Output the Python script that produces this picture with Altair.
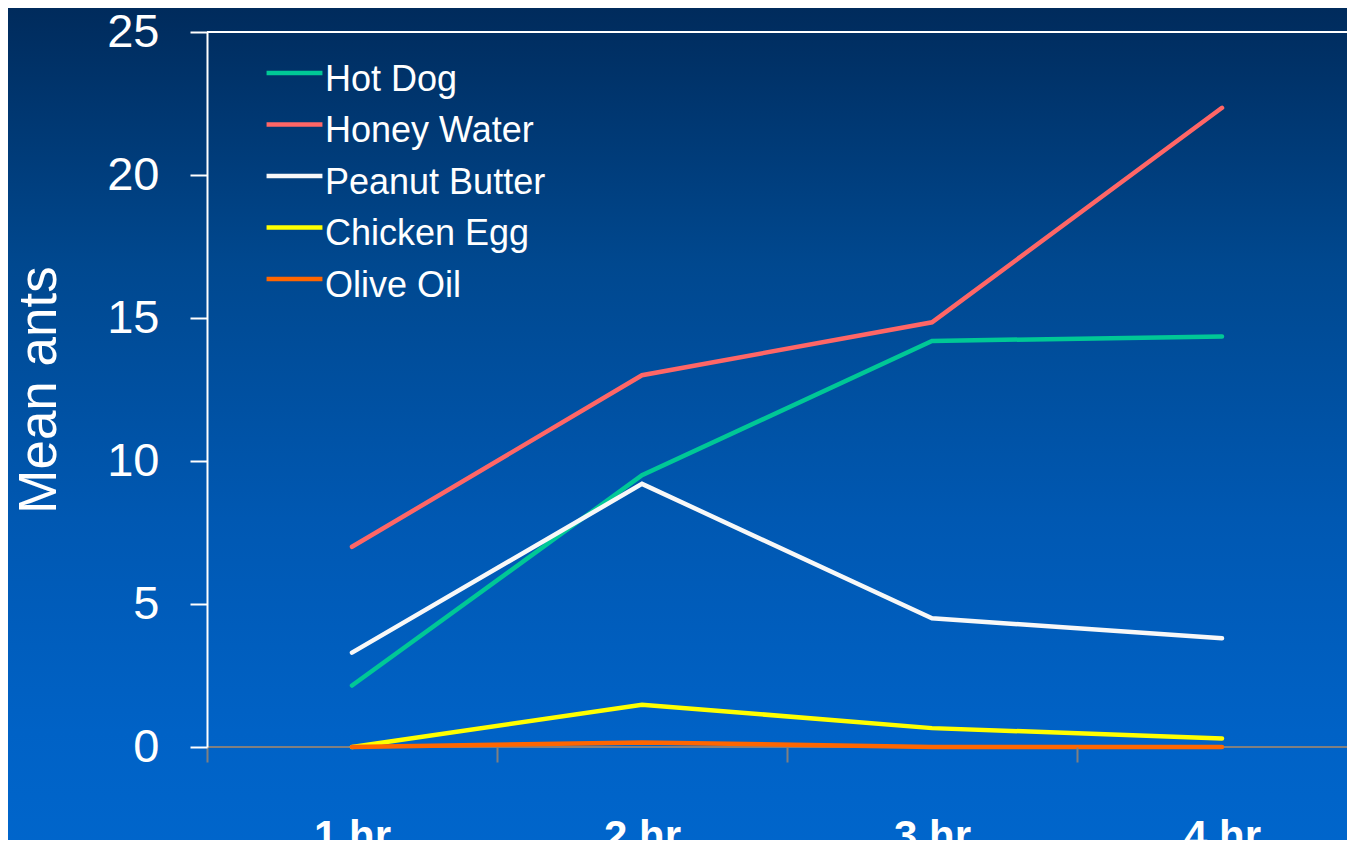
import altair as alt
import pandas as pd

hours = ["1 hr", "2 hr", "3 hr", "4 hr"]
series = ["Hot Dog", "Honey Water", "Peanut Butter", "Chicken Egg", "Olive Oil"]
hot_dog = [2.15, 9.5, 14.2, 14.35]
honey_water = [7.0, 13.0, 14.85, 22.35]
peanut_butter = [3.3, 9.2, 4.5, 3.8]
chicken_egg = [0.0, 1.48, 0.66, 0.3]
olive_oil = [0.0, 0.16, 0.0, 0.0]
colors = ["#00c896", "#ff6666", "#f8f8f8", "#ffff00", "#ff6600"]
y_ticks = [0, 5, 10, 15, 20, 25]

values = [hot_dog, honey_water, peanut_butter, chicken_egg, olive_oil]
rows = []
for name, vals in zip(series, values):
    for h, v in zip(hours, vals):
        rows.append({"hour": h, "series": name, "ants": v})
df = pd.DataFrame(rows)

XR = 1160          # full x range of the plot (extends past the visible page)
W, H = 1140, 715   # visible plot width / height
PL, PT, PR, PB = 199, 24, 0, 93
FONT = "Liberation Sans"

bg = alt.Chart(pd.DataFrame({"bg": [0]})).mark_rect(
    color=alt.LinearGradient(
        gradient="linear",
        stops=[
            alt.GradientStop(color="#002b5c", offset=0),
            alt.GradientStop(color="#00488f", offset=0.3),
            alt.GradientStop(color="#0058b2", offset=0.6),
            alt.GradientStop(color="#0062c6", offset=0.85),
            alt.GradientStop(color="#0066cc", offset=1),
        ],
        x1=0, x2=0, y1=0, y2=1,
    )
).encode(
    x=alt.value(-PL), x2=alt.value(W + 40),
    y=alt.value(-PT), y2=alt.value(H + PB + 20),
)

zero_rule = alt.Chart(pd.DataFrame({"r": [0]})).mark_rule(
    color="#808080", strokeWidth=2
).encode(y=alt.datum(0), x=alt.value(0), x2=alt.value(W + 40))

top_rule = alt.Chart(pd.DataFrame({"r": [0]})).mark_rule(
    color="white", strokeWidth=2
).encode(y=alt.datum(25), x=alt.value(0), x2=alt.value(W + 40))

lines = alt.Chart(df).mark_line(strokeWidth=4.5, strokeCap="round").encode(
    x=alt.X(
        "hour:N",
        sort=hours,
        bandPosition=0.5,
        scale=alt.Scale(type="band", paddingInner=0, paddingOuter=0, range=[0, XR]),
        axis=alt.Axis(
            title=None, domain=False, ticks=True, tickBand="extent",
            tickColor="#808080", tickWidth=2, tickSize=15,
            labelColor="white", labelFont=FONT, labelFontSize=42,
            labelFontWeight="bold", labelBaseline="alphabetic",
            labelPadding=87, labelAngle=0, grid=False, zindex=1,
        ),
    ),
    y=alt.Y(
        "ants:Q",
        scale=alt.Scale(domain=[0, 25], nice=False),
        axis=alt.Axis(
            title="Mean ants", values=y_ticks, grid=False,
            domainColor="white", domainWidth=2,
            tickColor="white", tickWidth=2, tickSize=17,
            labelColor="white", labelFont=FONT, labelFontSize=47,
            labelPadding=31,
            titleColor="white", titleFont=FONT, titleFontSize=53,
            titleFontWeight="normal", titleAngle=270,
            titleBaseline="alphabetic", titleAlign="center",
            titleX=-152, titleY=H / 2, zindex=1,
        ),
    ),
    color=alt.Color(
        "series:N",
        sort=series,
        scale=alt.Scale(domain=series, range=colors),
        legend=alt.Legend(
            title=None, orient="none", legendX=63, legendY=23,
            padding=0, symbolType="M-1.27,-0.3L1.27,-0.3",
            symbolSize=1936, symbolStrokeWidth=4.5,
            labelColor="white", labelFont=FONT, labelFontSize=36,
            labelOffset=6, rowPadding=8.5, labelLimit=0, zindex=1,
        ),
    ),
)

chart = alt.layer(bg, zero_rule, top_rule, lines).properties(
    width=W, height=H,
    autosize=alt.AutoSizeParams(type="none"),
    padding={"left": PL, "top": PT, "right": PR, "bottom": PB},
).configure_view(stroke=None).configure(background="#0058b2")

chart.save("out.html", embed_options={"renderer": "svg", "actions": False})
